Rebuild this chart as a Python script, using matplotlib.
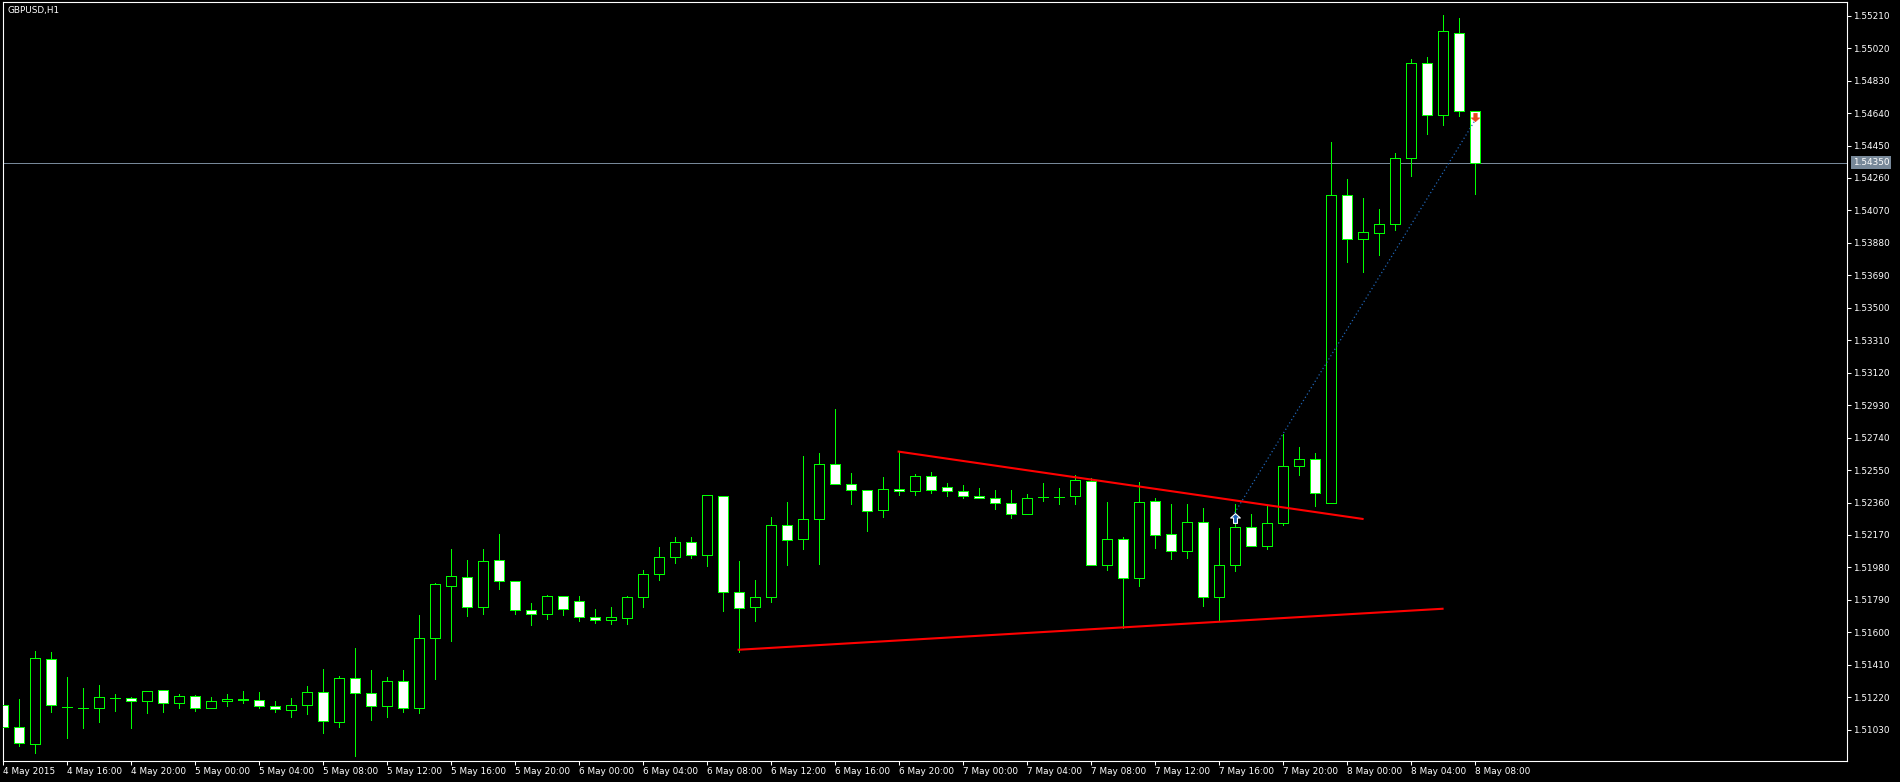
import numpy as np
import matplotlib
matplotlib.use('Agg')
import matplotlib.pyplot as plt
from matplotlib.path import Path

# GBPUSD H1 bars, 4 May 2015 12:00 .. 8 May 2015 08:00
opens = [
    1.51173, 1.51044, 1.50945, 1.51442, 1.51163, 1.51157, 1.51155, 1.51214, 1.51214, 1.51196,
    1.51261, 1.51185, 1.51226, 1.51155, 1.51196, 1.51206, 1.51202, 1.51167, 1.51144, 1.51173,
    1.51249, 1.51073, 1.51331, 1.51243, 1.51167, 1.51313, 1.51155, 1.51565, 1.51870, 1.51922,
    1.51747, 1.52022, 1.51899, 1.51729, 1.51706, 1.51811, 1.51782, 1.51688, 1.51670, 1.51686,
    1.51805, 1.51940, 1.52039, 1.52127, 1.52051, 1.52396, 1.51834, 1.51747, 1.51805, 1.52227,
    1.52145, 1.52262, 1.52584, 1.52467, 1.52432, 1.52314, 1.52437, 1.52426, 1.52513, 1.52449,
    1.52426, 1.52396, 1.52385, 1.52355, 1.52291, 1.52392, 1.52392, 1.52396, 1.52484, 1.51993,
    1.52145, 1.51916, 1.52367, 1.52174, 1.52074, 1.52244, 1.51805, 1.51993, 1.52215, 1.52104,
    1.52238, 1.52572, 1.52613, 1.52355, 1.54159, 1.53901, 1.53936, 1.53989, 1.54375, 1.54931,
    1.54627, 1.55107, 1.54650]
highs = [
    1.51180, 1.51208, 1.51491, 1.51485, 1.51339, 1.51272, 1.51292, 1.51239, 1.51220, 1.51255,
    1.51261, 1.51239, 1.51233, 1.51222, 1.51239, 1.51257, 1.51251, 1.51198, 1.51216, 1.51286,
    1.51385, 1.51344, 1.51508, 1.51378, 1.51339, 1.51380, 1.51702, 1.51889, 1.52088, 1.52024,
    1.52088, 1.52176, 1.51899, 1.51770, 1.51817, 1.51811, 1.51811, 1.51735, 1.51747, 1.51811,
    1.51965, 1.52100, 1.52158, 1.52158, 1.52402, 1.52396, 1.52018, 1.51906, 1.52275, 1.52363,
    1.52632, 1.52650, 1.52908, 1.52533, 1.52432, 1.52509, 1.52654, 1.52525, 1.52537, 1.52473,
    1.52461, 1.52443, 1.52432, 1.52432, 1.52408, 1.52473, 1.52443, 1.52519, 1.52502, 1.52361,
    1.52156, 1.52478, 1.52385, 1.52350, 1.52350, 1.52326, 1.52209, 1.52350, 1.52291, 1.52338,
    1.52759, 1.52685, 1.52650, 1.54469, 1.54252, 1.54141, 1.54077, 1.54404, 1.54955, 1.54966,
    1.55214, 1.55197, 1.54650]
lows = [
    1.51040, 1.50935, 1.50895, 1.51135, 1.50983, 1.51042, 1.51077, 1.51141, 1.51042, 1.51130,
    1.51135, 1.51159, 1.51141, 1.51155, 1.51171, 1.51188, 1.51159, 1.51135, 1.51106, 1.51124,
    1.51013, 1.51048, 1.50878, 1.51089, 1.51106, 1.51135, 1.51130, 1.51329, 1.51551, 1.51697,
    1.51709, 1.51856, 1.51709, 1.51645, 1.51680, 1.51703, 1.51668, 1.51656, 1.51651, 1.51651,
    1.51750, 1.51908, 1.52004, 1.52037, 1.51990, 1.51727, 1.51487, 1.51668, 1.51779, 1.51996,
    1.52090, 1.52002, 1.52467, 1.52353, 1.52195, 1.52273, 1.52406, 1.52406, 1.52418, 1.52400,
    1.52388, 1.52385, 1.52324, 1.52271, 1.52291, 1.52371, 1.52353, 1.52353, 1.51993, 1.51967,
    1.51627, 1.51870, 1.52092, 1.52028, 1.52033, 1.51756, 1.51668, 1.51957, 1.52104, 1.52090,
    1.52227, 1.52523, 1.52341, 1.52355, 1.53770, 1.53711, 1.53811, 1.53957, 1.54273, 1.54519,
    1.54572, 1.54625, 1.54168]
closes = [
    1.51044, 1.50950, 1.51448, 1.51173, 1.51163, 1.51157, 1.51220, 1.51217, 1.51196, 1.51255,
    1.51185, 1.51226, 1.51155, 1.51196, 1.51208, 1.51206, 1.51167, 1.51149, 1.51173, 1.51249,
    1.51079, 1.51331, 1.51243, 1.51167, 1.51313, 1.51155, 1.51567, 1.51883, 1.51928, 1.51747,
    1.52016, 1.51899, 1.51729, 1.51706, 1.51811, 1.51735, 1.51688, 1.51670, 1.51688, 1.51805,
    1.51940, 1.52039, 1.52127, 1.52051, 1.52402, 1.51834, 1.51741, 1.51805, 1.52227, 1.52139,
    1.52262, 1.52584, 1.52467, 1.52432, 1.52309, 1.52437, 1.52426, 1.52513, 1.52432, 1.52426,
    1.52396, 1.52385, 1.52355, 1.52291, 1.52385, 1.52392, 1.52392, 1.52490, 1.51993, 1.52145,
    1.51916, 1.52361, 1.52168, 1.52074, 1.52244, 1.51805, 1.51993, 1.52215, 1.52104, 1.52238,
    1.52572, 1.52613, 1.52414, 1.54159, 1.53901, 1.53942, 1.53989, 1.54375, 1.54931, 1.54627,
    1.55119, 1.54650, 1.54350]

bid = 1.54350

# trendlines (bar index, price)
upper_line = ([56, 85], [1.52658, 1.52264])
lower_line = ([46, 90], [1.51498, 1.51738])
# trade: buy arrow -> sell arrow
trade_line = ([77, 92], [1.52299, 1.54593])
buy_arrow = (77, 1.52271)
sell_arrow = (92, 1.54615)

xtick_labels = ['4 May 2015', '4 May 16:00', '4 May 20:00', '5 May 00:00', '5 May 04:00',
                '5 May 08:00', '5 May 12:00', '5 May 16:00', '5 May 20:00', '6 May 00:00',
                '6 May 04:00', '6 May 08:00', '6 May 12:00', '6 May 16:00', '6 May 20:00',
                '7 May 00:00', '7 May 04:00', '7 May 08:00', '7 May 12:00', '7 May 16:00',
                '7 May 20:00', '8 May 00:00', '8 May 04:00', '8 May 08:00']
ytick_labels = ['1.51030', '1.51220', '1.51410', '1.51600', '1.51790', '1.51980', '1.52170',
                '1.52360', '1.52550', '1.52740', '1.52930', '1.53120', '1.53310', '1.53500',
                '1.53690', '1.53880', '1.54070', '1.54260', '1.54450', '1.54640', '1.54830',
                '1.55020', '1.55210']

plt.rcParams['font.family'] = ['DejaVu Sans']
FS = 6.4
GREEN = '#00ff00'
LW = 0.6

W, H = 1900, 782
fig = plt.figure(figsize=(W / 100, H / 100), dpi=100, facecolor='black')
ax = fig.add_axes([2.7 / W, (H - 760.7) / H, (1847 - 2.7) / W, (760.7 - 2) / H])
ax.set_facecolor('black')

o = np.array(opens)
h = np.array(highs)
l = np.array(lows)
c = np.array(closes)
x = np.arange(len(o))
bull = c >= o

ax.axhline(bid, color='#778899', lw=LW, zorder=1, antialiased=False)
ax.vlines(x, l, h, color=GREEN, lw=LW, zorder=2, antialiased=False)
ax.bar(x, np.maximum(np.abs(c - o), 1.2e-5), width=0.625, bottom=np.minimum(o, c),
       color=np.where(bull, 'black', 'white'), edgecolor=GREEN, linewidth=LW,
       zorder=3, antialiased=False)

ax.plot(*upper_line, color='red', lw=1.5, zorder=4)
ax.plot(*lower_line, color='red', lw=1.5, zorder=4)
ax.plot(*trade_line, color='#1f64b4', lw=0.9, ls=(0, (1, 2)), zorder=5)

up = Path([(0, 1), (1, 0.1), (0.4, 0.1), (0.4, -1), (-0.4, -1), (-0.4, 0.1), (-1, 0.1), (0, 1)],
          closed=True)
down = Path([(0, -1), (1, -0.1), (0.4, -0.1), (0.4, 1), (-0.4, 1), (-0.4, -0.1), (-1, -0.1), (0, -1)],
            closed=True)
ax.plot([buy_arrow[0]], [buy_arrow[1]], marker=up, ms=7, mfc='#1a5fb4', mec='white', mew=0.8,
        ls='none', zorder=6)
ax.plot([sell_arrow[0]], [sell_arrow[1]], marker=down, ms=6, mfc='#e8461e', mec='#e8461e',
        mew=0.5, ls='none', zorder=6)

ax.set_xlim(0.0125, 115.28)
ax.set_ylim(1.508485, 1.552902)

ax.set_xticks(list(range(0, len(o), 4)), xtick_labels)
ax.set_yticks([float(s) for s in ytick_labels], ytick_labels)
ax.yaxis.tick_right()
ax.tick_params(axis='both', direction='out', length=3, width=0.75, colors='white',
               labelsize=FS, pad=1.5)
for t in ax.get_xticklabels():
    t.set_ha('left')

for s in ax.spines.values():
    s.set_color('white')
    s.set_linewidth(0.8)

ax.annotate(f'{bid:.5f}', xy=(1, bid), xycoords=('axes fraction', 'data'),
            xytext=(4.1, 0), textcoords='offset points', ha='left', va='center',
            color='white', fontsize=FS, annotation_clip=False,
            bbox=dict(boxstyle='square,pad=0.2', fc='#778899', ec='none'))

fig.text(7 / W, 1 - 10 / H, 'GBPUSD,H1', color='white', fontsize=FS, ha='left', va='center')

fig.savefig('out.png', dpi=100, facecolor='black')
